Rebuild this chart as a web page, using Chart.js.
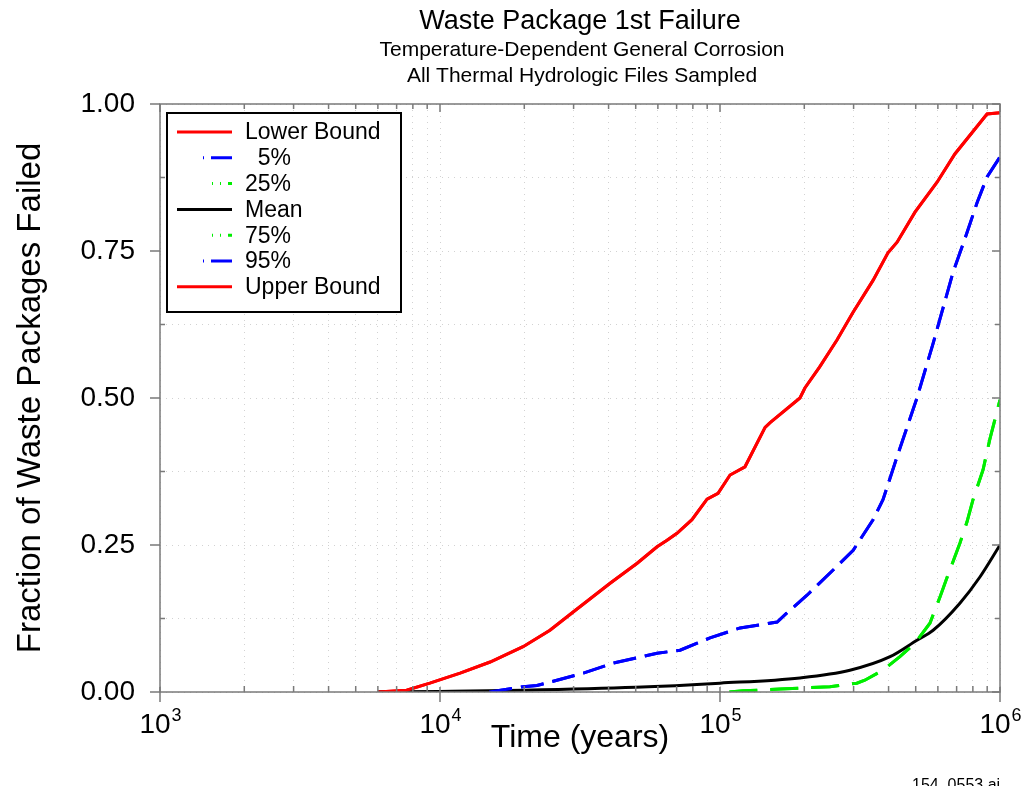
<!DOCTYPE html>
<html lang="en">
<head>
<meta charset="UTF-8">
<title>Waste Package 1st Failure</title>
<script src="https://cdn.jsdelivr.net/npm/chart.js"></script>
<style>
  html, body { margin: 0; padding: 0; background: #fff; }
</style>
</head>
<body>
<canvas id="failChart" width="1026" height="786"></canvas>
<script>
const FONT = "'Liberation Sans', Arial, Helvetica, sans-serif";

// Lower and upper bound coincide on the plot (one red curve)
const boundYears = [6000, 7600, 9200, 11800, 15100, 19800, 24700, 29900, 40500, 50600, 59600, 64700,
  70200, 79400, 89900, 98400, 108600, 122800, 144900, 151000, 193000, 201000, 227000, 262000,
  298000, 352000, 398000, 429000, 497000, 596000, 690000, 899000, 1000000];
const boundFrac = [0, 0.003, 0.015, 0.032, 0.051, 0.077, 0.105, 0.136, 0.185, 0.219, 0.247, 0.258,
  0.27, 0.293, 0.328, 0.338, 0.369, 0.383, 0.45, 0.458, 0.5, 0.517, 0.553, 0.599,
  0.645, 0.70, 0.747, 0.765, 0.816, 0.867, 0.915, 0.983, 0.985];

// 5% and 95% coincide (blue dashed)
const pctBlueYears = [15000, 19800, 22200, 32500, 41500, 59600, 72000, 92100, 118000, 160000, 173000,
  205000, 253000, 299000, 352000, 382000, 422000, 505000, 577000, 679000, 762000, 828000, 899000, 1000000];
const pctBlueFrac = [0, 0.009, 0.011, 0.032, 0.049, 0.066, 0.071, 0.092, 0.109, 0.119, 0.134,
  0.165, 0.207, 0.241, 0.293, 0.327, 0.39, 0.5, 0.593, 0.713, 0.781, 0.832, 0.876, 0.91];

// 25% and 75% coincide (green dashed)
const pctGreenYears = [108000, 121000, 164000, 247000, 308000, 329000, 382000, 439000, 497000, 562000,
  611000, 652000, 719000, 762000, 801000, 870000, 920000, 1000000];
const pctGreenFrac = [0, 0.002, 0.005, 0.009, 0.015, 0.02, 0.037, 0.06, 0.083, 0.117,
  0.162, 0.199, 0.253, 0.289, 0.327, 0.378, 0.43, 0.497];

const meanYears = [6000, 10000, 20000, 50000, 100000, 193000, 291000, 405000, 505000, 577000, 719000, 849000, 1000000];
const meanFrac = [0, 0.001, 0.003, 0.008, 0.015, 0.024, 0.037, 0.06, 0.088, 0.105, 0.151, 0.196, 0.25];

const legendLabels = ['Lower Bound', '  5%', '25%', 'Mean', '75%', '95%', 'Upper Bound'];
const xDecades = [1e3, 1e4, 1e5, 1e6];
const xMantissas = [1, 2, 3, 4, 5, 6, 7, 8, 9];
const xExponents = ['3', '4', '5', '6'];
const yTicks = [0, 0.125, 0.25, 0.375, 0.5, 0.625, 0.75, 0.875, 1];
const yTickLabels = ['0.00', '0.25', '0.50', '0.75', '1.00'];

const titleText = 'Waste Package 1st Failure';
const subtitleText = ['Temperature-Dependent General Corrosion', 'All Thermal Hydrologic Files Sampled'];
const footnote = '154_0553.ai';

function pts(xs, ys) {
  return xs.map((x, i) => ({ x: x, y: ys[i] }));
}

const RED = '#ff0000', BLUE = '#0000ff', GREEN = '#00ee00', BLACK = '#000000';
const BLUE_DASH = [23, 9], GREEN_DASH = [28, 13];
// how the little legend samples look (start offset into the 55px sample, dash pattern)
const SAMPLE_SOLID = { start: 0, dash: [] };
const SAMPLE_BLUE = { start: 26, dash: [1, 7, 21, 100] };
const SAMPLE_GREEN = { start: 35, dash: [1, 7, 1, 7, 4, 100] };

function lineSet(label, xs, ys, color, dash, sample) {
  return {
    label: label,
    data: pts(xs, ys),
    borderColor: color,
    backgroundColor: color,
    borderWidth: 3,
    borderDash: dash,
    pointRadius: 0,
    tension: 0,
    fill: false,
    sample: sample
  };
}

const datasets = [
  lineSet(legendLabels[0], boundYears, boundFrac, RED, [], SAMPLE_SOLID),
  lineSet(legendLabels[1], pctBlueYears, pctBlueFrac, BLUE, BLUE_DASH, SAMPLE_BLUE),
  lineSet(legendLabels[2], pctGreenYears, pctGreenFrac, GREEN, GREEN_DASH, SAMPLE_GREEN),
  lineSet(legendLabels[3], meanYears, meanFrac, BLACK, [], SAMPLE_SOLID),
  lineSet(legendLabels[4], pctGreenYears, pctGreenFrac, GREEN, GREEN_DASH, SAMPLE_GREEN),
  lineSet(legendLabels[5], pctBlueYears, pctBlueFrac, BLUE, BLUE_DASH, SAMPLE_BLUE),
  lineSet(legendLabels[6], boundYears, boundFrac, RED, [], SAMPLE_SOLID)
];
datasets[3].cubicInterpolationMode = 'monotone';

const xGridValues = [];
xDecades.forEach(d => {
  xMantissas.forEach(m => {
    if (d * m <= xDecades[xDecades.length - 1]) xGridValues.push(d * m);
  });
});

// frame, tick marks, titles, custom legend, superscript tick labels
const decor = {
  id: 'decor',
  afterDatasetsDraw(chart) {
    const { ctx, chartArea: a, scales } = chart;
    ctx.save();
    ctx.strokeStyle = '#7a7a7a';
    ctx.lineWidth = 1.5;
    ctx.strokeRect(a.left, a.top, a.right - a.left, a.bottom - a.top);
    ctx.beginPath();
    scales.y.ticks.forEach(t => {
      const py = scales.y.getPixelForValue(t.value);
      const major = Math.abs(t.value * 4 - Math.round(t.value * 4)) < 1e-6;
      if (major) {
        ctx.moveTo(a.left - 10, py); ctx.lineTo(a.left, py);
        ctx.moveTo(a.right - 8, py); ctx.lineTo(a.right, py);
      } else {
        ctx.moveTo(a.left, py); ctx.lineTo(a.left + 5, py);
        ctx.moveTo(a.right - 5, py); ctx.lineTo(a.right, py);
      }
    });
    scales.x.ticks.forEach(t => {
      const px = scales.x.getPixelForValue(t.value);
      const major = xDecades.includes(t.value);
      if (major) {
        ctx.moveTo(px, a.bottom - 5); ctx.lineTo(px, a.bottom + 10);
        ctx.moveTo(px, a.top); ctx.lineTo(px, a.top + 8);
      } else {
        ctx.moveTo(px, a.bottom - 6); ctx.lineTo(px, a.bottom);
        ctx.moveTo(px, a.top); ctx.lineTo(px, a.top + 5);
      }
    });
    ctx.stroke();
    ctx.restore();
  },
  afterDraw(chart) {
    const { ctx, chartArea: a, scales } = chart;
    const cx = (a.left + a.right) / 2;
    ctx.save();
    ctx.fillStyle = '#000';
    ctx.textAlign = 'center';
    ctx.textBaseline = 'alphabetic';
    ctx.font = '27px ' + FONT;
    ctx.fillText(titleText, cx, 29);
    ctx.font = '21px ' + FONT;
    ctx.fillText(subtitleText[0], cx + 2, 56);
    ctx.fillText(subtitleText[1], cx + 2, 82);

    // x tick labels: 10 with superscript exponent
    xDecades.forEach((v, i) => {
      const px = scales.x.getPixelForValue(v);
      ctx.font = '28px ' + FONT;
      const wBase = ctx.measureText('10').width;
      ctx.font = '18px ' + FONT;
      const wExp = ctx.measureText(xExponents[i]).width;
      const left = px - (wBase + wExp) / 2;
      ctx.textAlign = 'left';
      ctx.font = '28px ' + FONT;
      ctx.fillText('10', left, a.bottom + 41);
      ctx.font = '18px ' + FONT;
      ctx.fillText(xExponents[i], left + wBase + 1, a.bottom + 29);
    });

    ctx.font = '16px ' + FONT;
    ctx.textAlign = 'left';
    ctx.fillText(footnote, 912, 790);

    // legend box
    const bx = a.left + 7, by = a.top + 9, bw = 234, bh = 199;
    ctx.fillStyle = '#fff';
    ctx.fillRect(bx, by, bw, bh);
    ctx.strokeStyle = '#000';
    ctx.lineWidth = 2;
    ctx.strokeRect(bx, by, bw, bh);
    ctx.font = '23px ' + FONT;
    ctx.textBaseline = 'middle';
    chart.data.datasets.forEach((ds, i) => {
      const ry = by + 19 + i * 25.8;
      const s = ds.sample;
      ctx.beginPath();
      ctx.strokeStyle = ds.borderColor;
      ctx.lineWidth = 3;
      ctx.setLineDash(s.dash);
      ctx.moveTo(bx + 10 + s.start, ry);
      ctx.lineTo(bx + 65, ry);
      ctx.stroke();
      ctx.setLineDash([]);
      ctx.fillStyle = '#000';
      ctx.fillText(ds.label, bx + 78, ry + 1);
    });
    ctx.restore();
  }
};

const ctx = document.getElementById('failChart').getContext('2d');
const failChart = new Chart(ctx, {
  type: 'line',
  data: { datasets: datasets },
  options: {
    responsive: false,
    animation: false,
    devicePixelRatio: 1,
    layout: { padding: { top: 104, right: 26, bottom: 0, left: 0 } },
    plugins: {
      legend: { display: false },
      tooltip: { enabled: false },
      title: { display: false }
    },
    scales: {
      x: {
        type: 'logarithmic',
        min: 1e3,
        max: 1e6,
        afterBuildTicks: (scale) => { scale.ticks = xGridValues.map(v => ({ value: v })); },
        afterFit: (scale) => { scale.height = 94; },
        grid: { color: '#d2d2d2', lineWidth: 1, drawTicks: false },
        border: { display: false, dash: [1, 5] },
        ticks: { display: false, autoSkip: false },
        title: {
          display: true,
          text: 'Time (years)',
          color: '#000',
          font: { family: FONT, size: 32 },
          padding: { top: 0, bottom: 29 }
        }
      },
      y: {
        min: 0,
        max: 1,
        afterBuildTicks: (scale) => { scale.ticks = yTicks.map(v => ({ value: v })); },
        afterFit: (scale) => { scale.width = 160; },
        grid: { color: '#d2d2d2', lineWidth: 1, drawTicks: false },
        border: { display: false, dash: [1, 5] },
        ticks: {
          autoSkip: false,
          padding: 25,
          color: '#000',
          font: { family: FONT, size: 28 },
          callback: (v) => {
            const idx = yTicks.indexOf(v);
            return idx % 2 === 0 ? yTickLabels[idx / 2] : '';
          }
        },
        title: {
          display: true,
          text: 'Fraction of Waste Packages Failed',
          color: '#000',
          font: { family: FONT, size: 33 },
          padding: { top: 11, bottom: 0 }
        }
      }
    }
  },
  plugins: [decor]
});
</script>
</body>
</html>
